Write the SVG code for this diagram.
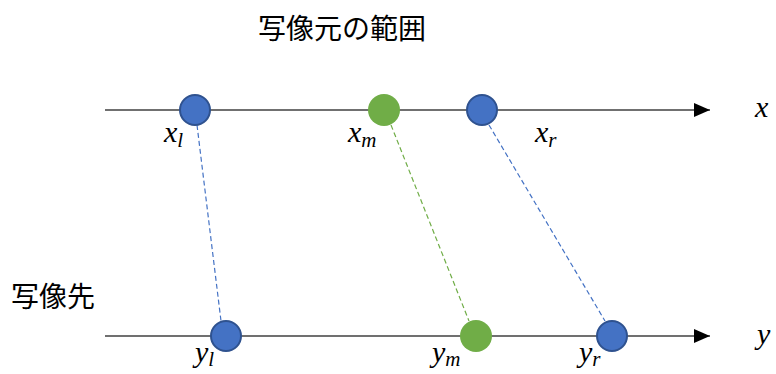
<svg xmlns="http://www.w3.org/2000/svg" width="776" height="374" viewBox="0 0 776 374">
<defs>
<marker id="arr" markerWidth="16" markerHeight="14" refX="16" refY="7" orient="auto" markerUnits="userSpaceOnUse">
<path d="M0,0 L16,7 L0,14 Z" fill="#000"/>
</marker>
<style>
.axis{stroke:#404040;stroke-width:1.5;fill:none}
.db{stroke:#4472C4;stroke-width:1.2;stroke-dasharray:5,3;fill:none}
.dg{stroke:#70AD47;stroke-width:1.2;stroke-dasharray:5,3;fill:none}
.nb{fill:#4472C4;stroke:#2F528F;stroke-width:2}
.ng{fill:#70AD47;stroke:none}
.jp{font-family:"Noto Sans CJK JP","Noto Sans",sans-serif;font-size:28px;fill:#000}
.m{font-family:"Liberation Serif",serif;font-style:italic;font-size:30px;fill:#000}
.s{font-size:21px}
</style>
</defs>
<g id="connectors">
<line class="axis" x1="105" y1="110" x2="710" y2="110" marker-end="url(#arr)"/>
<line class="axis" x1="105" y1="336" x2="710" y2="336" marker-end="url(#arr)"/>
<line class="db" x1="197" y1="125" x2="221" y2="321"/>
<line class="dg" x1="391" y1="125" x2="469" y2="321"/>
<line class="db" x1="489" y1="125" x2="605" y2="321"/>
</g>
<g id="title"><text class="jp" x="258" y="39">写像元の範囲</text></g>
<g id="label-dst"><text class="jp" x="11" y="307">写像先</text></g>
<g id="axis-x"><text class="m" x="755" y="117">x</text></g>
<g id="axis-y"><text class="m" x="757" y="344">y</text></g>
<g id="xl"><circle class="nb" cx="195" cy="110" r="15"/><text class="m" x="164" y="142">x<tspan class="s" dy="5">l</tspan></text></g>
<g id="xm"><circle class="ng" cx="384" cy="110" r="16"/><text class="m" x="348" y="142">x<tspan class="s" dy="5">m</tspan></text></g>
<g id="xr"><circle class="nb" cx="482" cy="110" r="15"/><text class="m" x="535" y="142">x<tspan class="s" dy="5">r</tspan></text></g>
<g id="yl"><circle class="nb" cx="226" cy="336" r="15"/><text class="m" x="195" y="362">y<tspan class="s" dy="4">l</tspan></text></g>
<g id="ym"><circle class="ng" cx="476" cy="336" r="16"/><text class="m" x="432" y="362">y<tspan class="s" dy="4">m</tspan></text></g>
<g id="yr"><circle class="nb" cx="612" cy="336" r="15"/><text class="m" x="579" y="362">y<tspan class="s" dy="4">r</tspan></text></g>
</svg>
